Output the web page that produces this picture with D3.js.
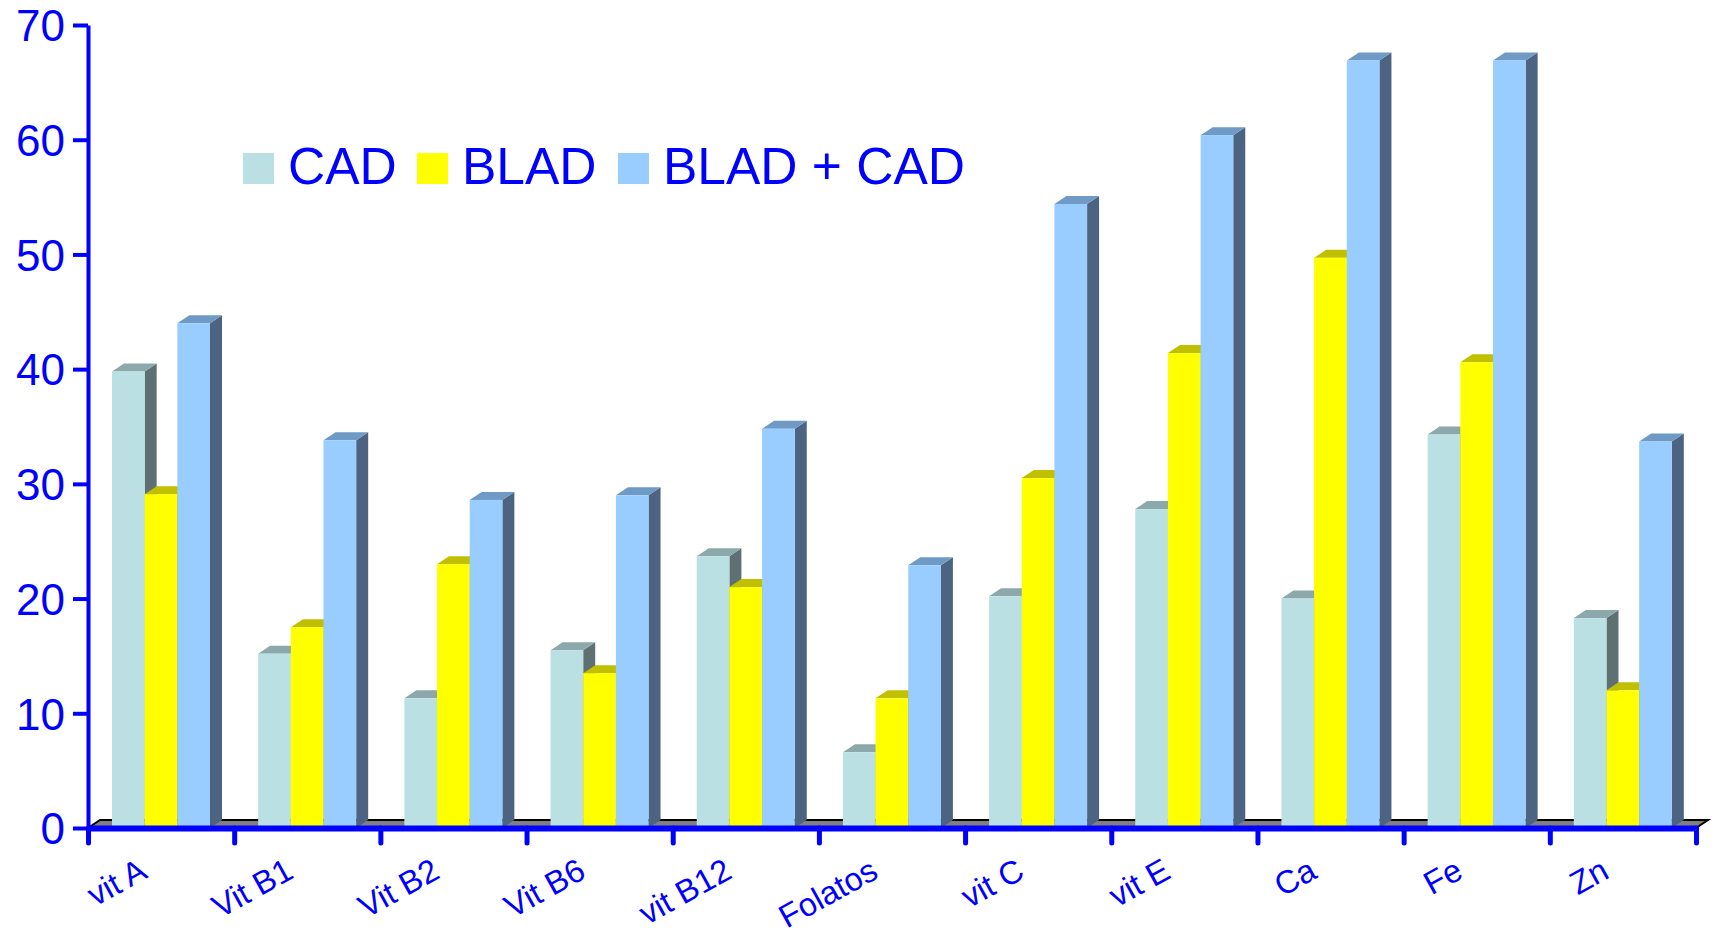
<!DOCTYPE html>
<html>
<head>
<meta charset="utf-8">
<title>Vitaminas y minerales</title>
<script src="https://cdn.jsdelivr.net/npm/d3@7/dist/d3.min.js"></script>
<style>
body { margin: 0; background: #fff; }
svg text { font-family: "Liberation Sans", Arial, sans-serif; fill: #0000ff; }
</style>
</head>
<body>
<script>
// chart data
var categories = ["vit A", "Vit B1", "Vit B2", "Vit B6", "vit B12", "Folatos",
                  "vit C", "vit E", "Ca", "Fe", "Zn"];
var series = ["CAD", "BLAD", "BLAD + CAD"];
var cadValues  = [39.8, 15.2, 11.3, 15.5, 23.7, 6.6, 20.2, 27.8, 20.0, 34.3, 18.3];
var bladValues = [29.1, 17.5, 23.0, 13.5, 21.0, 11.3, 30.5, 41.4, 49.7, 40.6, 12.0];
var bothValues = [44.0, 33.8, 28.6, 29.0, 34.8, 22.9, 54.4, 60.4, 66.9, 66.9, 33.7];
var yTicks = [0, 10, 20, 30, 40, 50, 60, 70];

// colours per series: front, top, side
var colors = {
    "CAD": ["#bbe0e3", "#8ca8aa", "#5e7072"],
    "BLAD": ["#ffff00", "#c0c000", "#808000"],
    "BLAD + CAD": ["#99ccff", "#6f9ac6", "#4c6482"]
};

var canvasX = 1716;
var canvasY = 938;
var plotLeft = 88, plotRight = 1696, plotTop = 25, plotBottom = 828;
var dx = 12, dy = 8;

var svg = d3.select("body")
            .append("svg")
            .attr("width", canvasX)
            .attr("height", canvasY);

// scales
var scaleY = d3.scaleLinear().domain([0, 70]).range([plotBottom, plotTop]);
var scaleX = d3.scaleBand().domain(categories).range([plotLeft, plotRight]);
var scaleS = d3.scaleBand().domain(series).range([24, 122]);
var scaleB = d3.scaleLinear().domain([0, categories.length]).range([plotLeft, plotRight]);

// build rows for every bar
var bars = [];
categories.forEach(function(c, i) {
    var vals = [cadValues[i], bladValues[i], bothValues[i]];
    series.forEach(function(s, j) {
        bars.push({cat: c, serie: s, value: vals[j]});
    });
});

// floor of the 3d plot
var floorPts = [[plotLeft, plotBottom], [plotLeft + dx, plotBottom - dy],
                [plotRight + dx, plotBottom - dy], [plotRight, plotBottom]];
svg.append("polygon")
    .attr("points", floorPts.join(" "))
    .attr("fill", "#808080");
svg.append("polyline")
    .attr("points", floorPts.join(" "))
    .attr("fill", "none")
    .attr("stroke", "#000")
    .attr("stroke-width", 2);

// draw 3d bars, left to right so later bars hide earlier sides
var g = svg.selectAll(".bar")
    .data(bars)
    .enter()
    .append("g")
    .attr("class", "bar");

g.each(function(d) {
    var el = d3.select(this);
    var x0 = scaleX(d.cat) + scaleS(d.serie);
    var x1 = x0 + scaleS.bandwidth();
    var y0 = scaleY(d.value);
    var c = colors[d.serie];
    el.append("polygon")
      .attr("points", [[x1, y0], [x1 + dx, y0 - dy], [x1 + dx, plotBottom - dy], [x1, plotBottom]].join(" "))
      .attr("fill", c[2]);
    el.append("polygon")
      .attr("points", [[x0, y0], [x0 + dx, y0 - dy], [x1 + dx, y0 - dy], [x1, y0]].join(" "))
      .attr("fill", c[1]);
    el.append("rect")
      .attr("x", x0)
      .attr("y", y0)
      .attr("width", x1 - x0)
      .attr("height", plotBottom - y0)
      .attr("fill", c[0]);
});

// y axis
var yAxis = svg.append("g")
    .attr("transform", "translate(" + plotLeft + ",0)")
    .call(d3.axisLeft(scaleY).tickValues(yTicks).tickSize(15).tickSizeOuter(0).tickPadding(8));
yAxis.select(".domain").attr("stroke", "#0000ff").attr("stroke-width", 4);
yAxis.selectAll(".tick line").attr("stroke", "#0000ff").attr("stroke-width", 4);
yAxis.selectAll(".tick text")
    .style("font-size", "44px")
    .attr("dy", "0.36em");

// x axis with ticks on the category borders
var xAxis = svg.append("g")
    .attr("transform", "translate(0," + plotBottom + ")")
    .call(d3.axisBottom(scaleB).ticks(categories.length).tickFormat("").tickSize(15).tickSizeOuter(0));
xAxis.select(".domain").attr("stroke", "#0000ff").attr("stroke-width", 6);
xAxis.selectAll(".tick line")
    .attr("stroke", "#0000ff")
    .attr("stroke-width", 5)
    .attr("stroke-linecap", "round");

// x labels, rotated
svg.selectAll(".xlabel")
    .data(categories)
    .enter()
    .append("text")
    .attr("class", "xlabel")
    .attr("text-anchor", "end")
    .attr("transform", function(d) {
        return "translate(" + (scaleX(d) + scaleX.bandwidth() / 2 - 12) + ",877) rotate(-29)";
    })
    .style("font-size", "32.5px")
    .text(function(d) { return d; });

// legend
var legendX = [243, 417, 618];
var legend = svg.selectAll(".legend")
    .data(series)
    .enter()
    .append("g")
    .attr("class", "legend")
    .attr("transform", function(d, i) { return "translate(" + legendX[i] + ",0)"; });
legend.append("rect")
    .attr("x", 0)
    .attr("y", 153)
    .attr("width", 31)
    .attr("height", 31)
    .attr("fill", function(d) { return colors[d][0]; });
legend.append("text")
    .attr("x", 45)
    .attr("y", 184)
    .style("font-size", "51.5px")
    .text(function(d) { return d; });
</script>
</body>
</html>
